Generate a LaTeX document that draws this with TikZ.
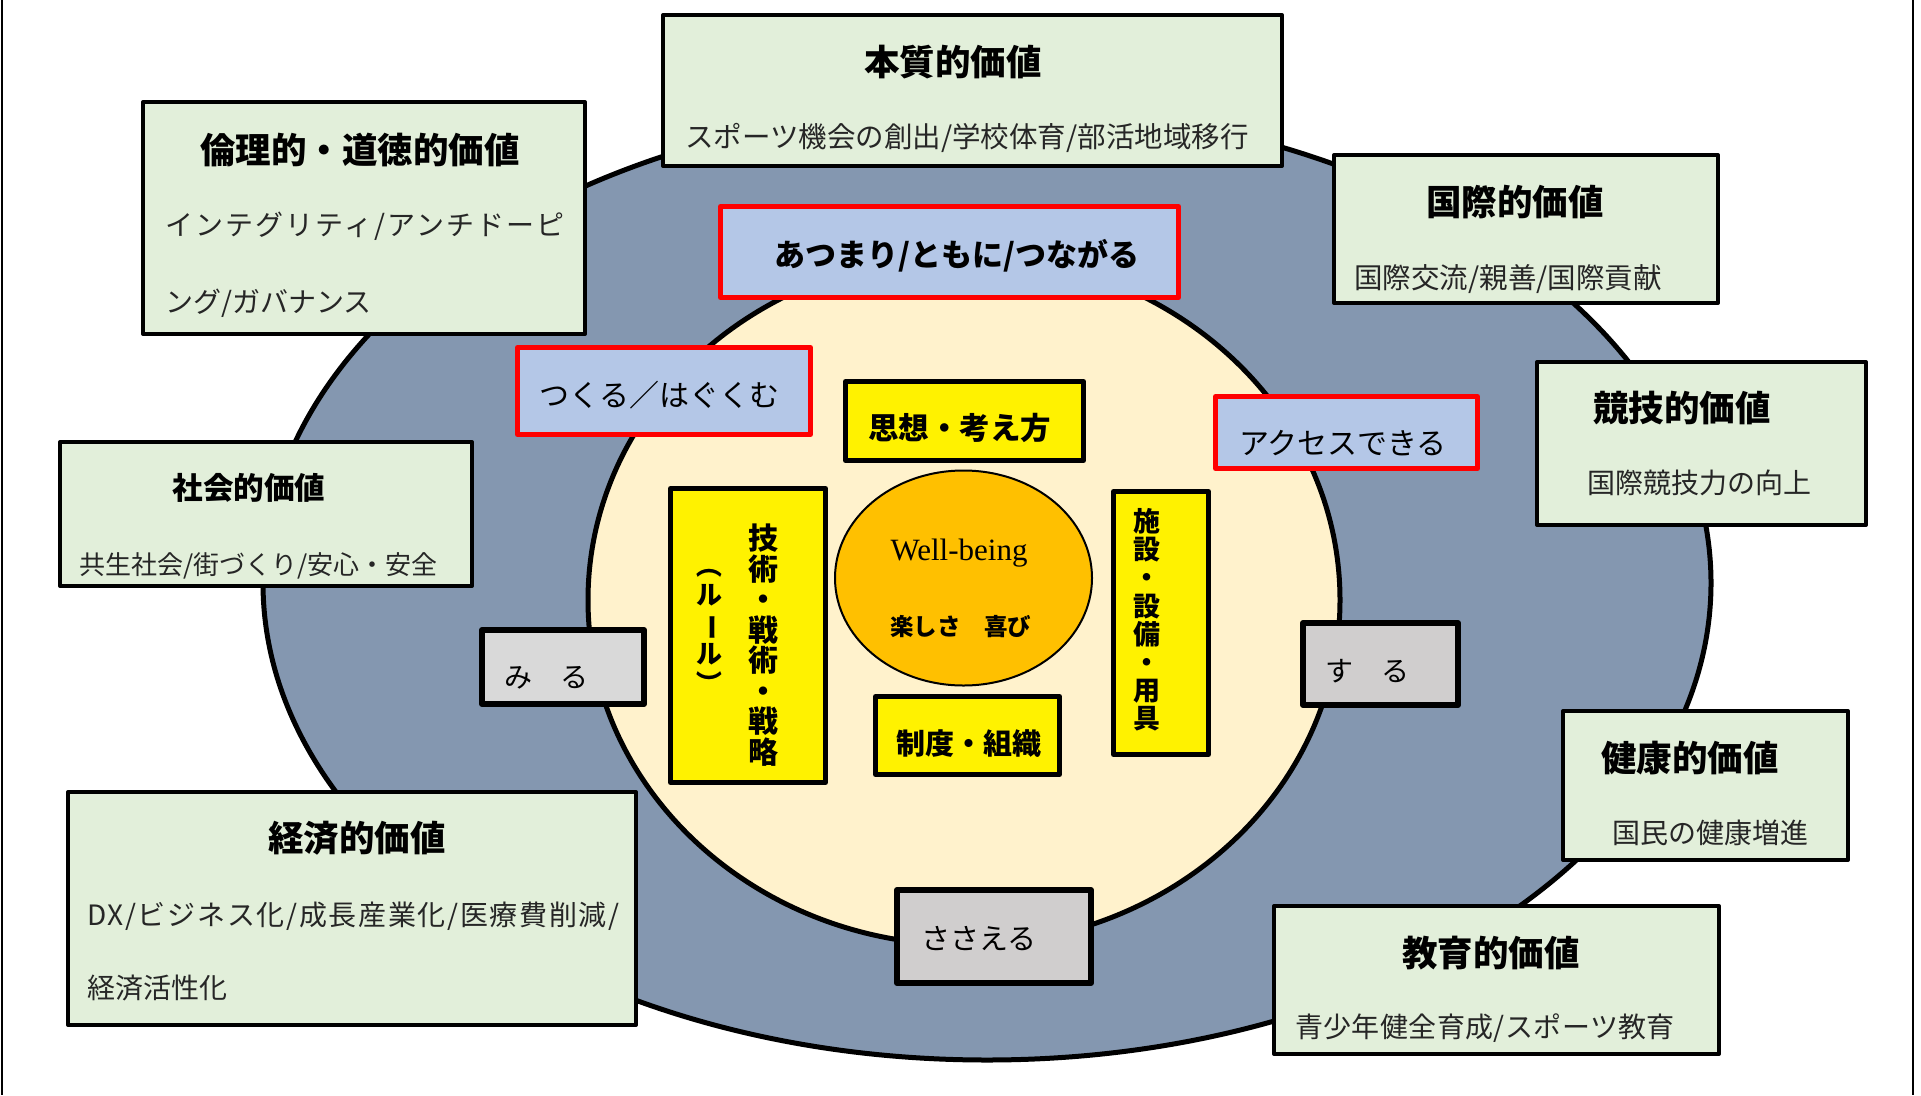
\documentclass[tikz,border=0pt]{standalone}
\usepackage{fontspec}
\usepackage{graphicx}
\newfontfamily\jp{Noto Sans CJK JP}
\newfontfamily\wbfont{Liberation Serif}
\usetikzlibrary{shapes.geometric}
\definecolor{outerc}{HTML}{8497B0}
\definecolor{innerc}{HTML}{FFF2CC}
\definecolor{greenc}{HTML}{E2EFDA}
\definecolor{bluec}{HTML}{B4C7E7}
\definecolor{grayc}{HTML}{D0CECE}
\definecolor{graym}{HTML}{D9D9D9}
\definecolor{orangec}{HTML}{FFC000}
\newcommand\TitleF{\jp\bfseries\fontsize{35.5}{40}\selectfont}
\newcommand\SubF{\jp\fontsize{28}{32}\selectfont}
\tikzset{
  greenbox/.style={draw=black, line width=4pt, fill=greenc, inner sep=0pt, line join=round},
  bluebox/.style={draw=red, line width=5pt, fill=bluec, inner sep=0pt, line join=round},
  yellowbox/.style={draw=black, line width=5pt, fill=yellow, inner sep=0pt, line join=round},
  graybox/.style={draw=black, line width=6pt, fill=grayc, inner sep=0pt, line join=round},
  hd/.style 2 args={inner sep=0pt, text height=#1, text depth=#2},
  ttl/.style={hd={31.2pt}{4.3pt}, font=\TitleF},
  sub/.style={hd={24.6pt}{3.4pt}, font=\SubF, text=black!85},
}
\begin{document}
\begin{tikzpicture}[x=1pt, y=-1pt]
\useasboundingbox (0,0) rectangle (1921,1095);
% frame lines
\draw[line width=2pt] (2,0) -- (2,1095);
\draw[line width=2pt] (1913,0) -- (1913,1095);
% ellipses
\draw[line width=5pt, fill=outerc] (987,583) ellipse [x radius=724, y radius=477];
\draw[line width=5pt, fill=innerc] (964,600) ellipse [x radius=376, y radius=345];

% green value boxes
\node[greenbox, minimum width=619, minimum height=151] (honshitsu) at (972.5,90.5) {};
\node[greenbox, minimum width=442, minimum height=232] (rinri) at (364,218) {};
\node[greenbox, minimum width=384, minimum height=148] (kokusai) at (1526,229) {};
\node[greenbox, minimum width=329, minimum height=163] (kyogi) at (1701.5,443.5) {};
\node[greenbox, minimum width=412, minimum height=144] (shakai) at (266,514) {};
\node[greenbox, minimum width=568, minimum height=233] (keizai) at (352,908.5) {};
\node[greenbox, minimum width=285, minimum height=149] (kenko) at (1705.5,785.5) {};
\node[greenbox, minimum width=445, minimum height=148] (kyoiku) at (1496.5,980) {};

% blue boxes
\node[bluebox, minimum width=458, minimum height=91] (atsumari) at (949.5,252) {};
\node[bluebox, minimum width=293, minimum height=87] (tsukuru) at (664,391) {};
\node[bluebox, minimum width=262, minimum height=72] (access) at (1346.5,432.5) {};

% yellow boxes
\node[yellowbox, minimum width=238, minimum height=79] (shiso) at (964.5,421) {};
\node[yellowbox, minimum width=155, minimum height=294] (gijutsu) at (748,635.5) {};
\node[yellowbox, minimum width=184, minimum height=78] (seido) at (967.5,735.5) {};
\node[yellowbox, minimum width=95, minimum height=263] (shisetsu) at (1161,623) {};

% gray boxes
\node[graybox, fill=graym, minimum width=162, minimum height=74] (miru) at (563,667) {};
\node[graybox, minimum width=155, minimum height=82] (suru) at (1380.5,664) {};
\node[graybox, minimum width=194, minimum height=93] (sasaeru) at (994,936.5) {};

% well-being
\node[ellipse, draw=black, line width=2pt, fill=orangec, inner sep=0pt,
      minimum width=257, minimum height=215] (wb) at (963.5,578) {};

% titles and subtitles
\node[ttl] (t1) at (953,62) {本質的価値};
\node[sub, hd={25.1pt}{3.4pt}, font=\jp\fontsize{28.5}{32}\selectfont] (s1) at (967,137) {スポーツ機会の創出/学校体育/部活地域移行};

\node[ttl] (t2) at (360,150) {倫理的・道徳的価値};
\node[sub, anchor=west] (s2a) at (165,225) {\addfontfeatures{LetterSpace=7.5}インテグリティ/アンチドーピ};
\node[sub, anchor=west] (s2b) at (165,302) {ング/ガバナンス};

\node[ttl] (t3) at (1515,202) {国際的価値};
\node[sub, hd={25.1pt}{3.4pt}, font=\jp\fontsize{28.5}{32}\selectfont] (s3) at (1508,278) {国際交流/親善/国際貢献};

\node[ttl] (t4) at (1682,408) {競技的価値};
\node[sub] (s4) at (1699.5,483) {国際競技力の向上};

\node[ttl, hd={26.9pt}{3.7pt}, font=\jp\bfseries\fontsize{30.6}{36}\selectfont] (t5) at (249,488) {社会的価値};
\node[sub, hd={22.9pt}{3.1pt}, font=\jp\fontsize{26}{30}\selectfont] (s5) at (258.5,565) {共生社会/街づくり/安心・安全};

\node[ttl] (t6) at (357,838) {経済的価値};
\node[sub, anchor=west] (s6a) at (87,915) {\addfontfeatures{LetterSpace=6}DX/ビジネス化/成長産業化/医療費削減/};
\node[sub, anchor=west] (s6b) at (87,988) {経済活性化};

\node[ttl] (t7) at (1690,758) {健康的価値};
\node[sub] (s7) at (1710,833) {国民の健康増進};

\node[ttl] (t8) at (1491,953) {教育的価値};
\node[sub] (s8) at (1485,1027) {\addfontfeatures{LetterSpace=1.5}青少年健全育成/スポーツ教育};

% blue box texts
\node[hd={27.3pt}{3.7pt}, font=\jp\bfseries\fontsize{31}{34}\selectfont] (atx) at (957,255) {あつまり/ともに/つながる};
\node[hd={26.4pt}{3.6pt}, font=\jp\fontsize{30}{34}\selectfont] (tstx) at (659.5,395) {つくる／はぐくむ};
\node[hd={26.4pt}{3.6pt}, font=\jp\fontsize{30}{34}\selectfont] (actx) at (1343,443) {アクセスできる};

% yellow box texts
\node[hd={26.8pt}{3.7pt}, font=\jp\bfseries\fontsize{30.5}{34}\selectfont] (shtx) at (959.5,428) {思想・考え方};
\node[hd={25.5pt}{3.5pt}, font=\jp\bfseries\fontsize{29}{34}\selectfont] (setx) at (968.5,743) {制度・組織};
\node[inner sep=0pt, align=center, font=\jp\bfseries\fontsize{30}{30.5}\selectfont] (gjtx) at (763,645)
  {技\\術\\・\\戦\\術\\・\\戦\\略};
\node[inner sep=0pt, align=center, font=\jp\bfseries\fontsize{26}{29.5}\selectfont] (rltx) at (709,624)
  {\rotatebox[origin=c]{-90}{（}\\ル\\\rotatebox[origin=c]{-90}{ー}\\ル\\\rotatebox[origin=c]{-90}{）}};
\node[inner sep=0pt, align=center, font=\jp\bfseries\fontsize{27}{28.2}\selectfont] (sstx) at (1147,620)
  {施\\設\\・\\設\\備\\・\\用\\具};

% well-being texts
\node[inner sep=0pt, font=\wbfont\fontsize{31}{34}\selectfont] (wbtx) at (959,553) {Well-being};
\node[hd={20.7pt}{2.8pt}, font=\jp\bfseries\fontsize{23.5}{28}\selectfont] (joytx) at (960.5,627) {楽しさ　喜び};

% gray box texts
\node[sub, text=black, hd={24.6pt}{3.4pt}] (mrtx) at (546.5,677) {み　る};
\node[sub, text=black, hd={24.6pt}{3.4pt}] (srtx) at (1367.5,670.5) {す　る};
\node[hd={25.5pt}{3.5pt}, font=\jp\fontsize{29}{32}\selectfont] (sstx2) at (979,938) {ささえる};
\end{tikzpicture}
\end{document}
